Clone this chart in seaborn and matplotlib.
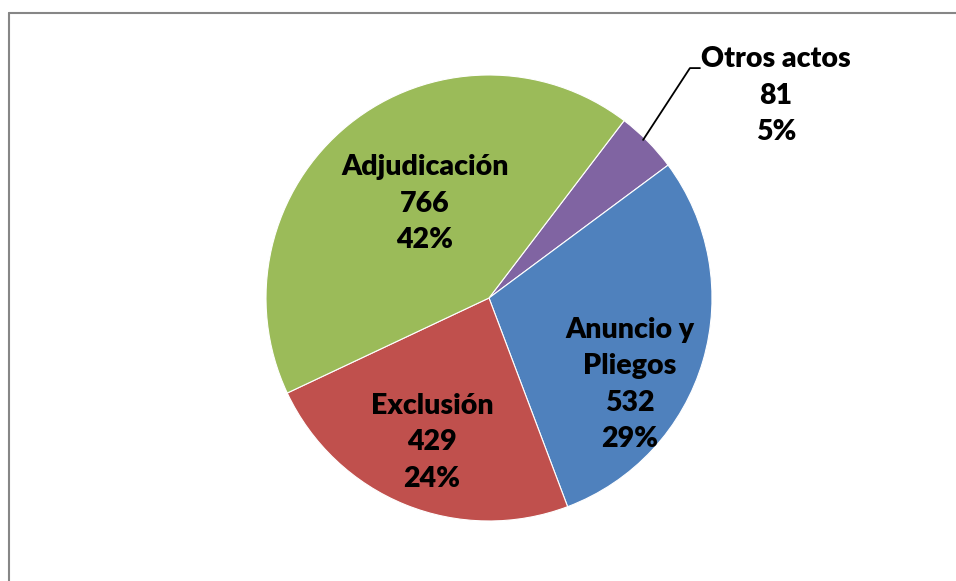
import numpy as np
import pandas as pd
import matplotlib
matplotlib.use("Agg")
import matplotlib.pyplot as plt
import seaborn as sns

# data (clockwise from the Otros actos slice)
categories = ['Otros actos', 'Anuncio y\nPliegos', 'Exclusión', 'Adjudicación']
values = [81, 532, 429, 766]
pct_labels = ['5%', '29%', '24%', '42%']   # as printed on the original chart
colors = ['#8064A2', '#4F81BD', '#C0504D', '#9BBB59']

df = pd.DataFrame({'cat': categories, 'n': values, 'pct': pct_labels})

sns.set_theme(style='white')
plt.rcParams['font.family'] = ['Lato', 'DejaVu Sans']

W, H = 956, 581
fig = plt.figure(figsize=(W / 100, H / 100), dpi=100)

# pie axes, centre (489, 298) px, radius 223 px
cx, cy, r = 489, 298, 223
ax = fig.add_axes([(cx - r) / W, (H - cy - r) / H, 2 * r / W, 2 * r / H])
wedges, _ = ax.pie(df['n'], colors=sns.color_palette(colors), startangle=52.7,
                   counterclock=False, radius=1,
                   wedgeprops=dict(edgecolor='white', linewidth=0.8))
ax.set_xlim(-1, 1)
ax.set_ylim(-1, 1)
ax.set_aspect('equal')
ax.axis('off')

# label spots, in pie units
label_pos = [(1.287, 0.906), (0.632, -0.388), (-0.256, -0.646), (-0.287, 0.422)]
for (x, y), row in zip(label_pos, df.itertuples()):
    ax.text(x, y, '%s\n%d\n%s' % (row.cat, row.n, row.pct),
            ha='center', va='center', fontsize=20.5, fontweight='heavy',
            color='black', linespacing=1.5, clip_on=False)

# leader line for the small slice
ax.plot([0.691, 0.901, 0.946], [0.709, 1.031, 1.031], color='black', lw=1.3,
        clip_on=False)

# chart frame (only top and left edges visible)
fig.add_artist(plt.Line2D([8.5 / W, 8.5 / W], [0, 1 - 12.5 / H], color='#868686', lw=1.5))
fig.add_artist(plt.Line2D([8.5 / W, 1], [1 - 12.5 / H, 1 - 12.5 / H], color='#868686', lw=1.5))

fig.savefig('out.png', dpi=100, facecolor='white')
